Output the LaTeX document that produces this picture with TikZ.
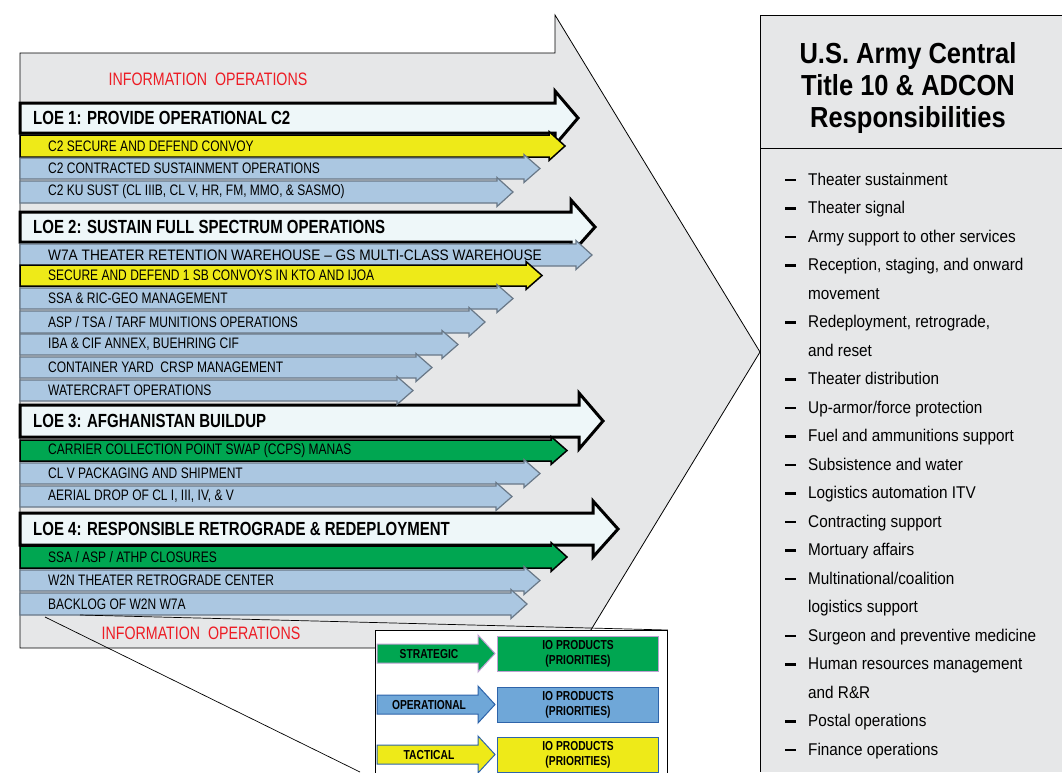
\documentclass[tikz,border=0pt]{standalone}
\usepackage{fontspec}
\setmainfont{Liberation Sans}
\newfontfamily\subfont[FakeStretch=0.79]{Liberation Sans}
\newfontfamily\listfont[FakeStretch=0.9]{Liberation Sans}
\newfontfamily\titlefont[FakeStretch=0.88]{Liberation Sans}
\definecolor{bggray}{RGB}{230,231,232}
\definecolor{loefill}{RGB}{238,247,249}
\definecolor{bluarr}{RGB}{171,199,225}
\definecolor{bluedge}{RGB}{105,120,135}
\definecolor{yelarr}{RGB}{238,234,24}
\definecolor{grnarr}{RGB}{0,166,81}
\definecolor{iored}{RGB}{237,28,36}
\definecolor{legblue}{RGB}{111,167,216}
\definecolor{legedge}{RGB}{46,100,170}
\definecolor{glow}{RGB}{190,160,210}
\begin{document}
\begin{tikzpicture}[x=1pt,y=-1pt,
  loe/.style={fill=loefill,draw=black,line width=3pt},
  blu/.style={fill=bluarr,draw=bluedge,line width=1.2pt},
  ylw/.style={fill=yelarr,draw=black,line width=1.5pt},
  grn/.style={fill=grnarr,draw=black,line width=1.5pt},
  subtxt/.style={anchor=west,inner sep=0pt,font=\subfont\fontsize{15.2}{17}\selectfont},
  loetxt/.style={anchor=west,inner sep=0pt,font=\subfont\bfseries\fontsize{19}{20}\selectfont},
  iotxt/.style={inner sep=0pt,text=iored,font=\subfont\fontsize{18}{20}\selectfont},
  legtxt/.style={inner sep=0pt,align=center,font=\subfont\bfseries\fontsize{13}{14.5}\selectfont},
  listtxt/.style={anchor=base west,inner sep=0pt,font=\listfont\fontsize{17}{20}\selectfont}]
\useasboundingbox (0,0) rectangle (1062,772);
% big arrow behind everything
\filldraw[fill=bggray,draw=black,line width=0.8pt] (20,53) -- (555,53) -- (555,15) -- (760,352) -- (555,689) -- (555,648) -- (20,648) -- cycle;
\node[iotxt](io1)at(208,79){INFORMATION\ \ OPERATIONS};
\node[iotxt](io2)at(201,633){INFORMATION\ \ OPERATIONS};
% lines of effort
\foreach \yt/\yb/\tip/\hl/\txt [count=\i] in {103/133/578/23/{LOE 1: PROVIDE OPERATIONAL C2},
  212/242/595/24/{LOE 2: SUSTAIN FULL SPECTRUM OPERATIONS},
  405/437/603/24/{LOE 3: AFGHANISTAN BUILDUP},
  513/545/618/25/{LOE 4: RESPONSIBLE RETROGRADE \& REDEPLOYMENT}}{
  \draw[loe] (20,\yt) -- ({\tip-\hl},\yt) -- ({\tip-\hl},\yt-12) -- (\tip,{(\yt+\yb)/2}) -- ({\tip-\hl},\yb+12) -- ({\tip-\hl},\yb) -- (20,\yb) -- cycle;
  \node[loetxt](loe\i)at(33,{(\yt+\yb)/2}){\txt};
}
% tasks
\foreach \yt/\yb/\tip/\kind/\txt [count=\i] in {135/157/565/ylw/{C2 SECURE AND DEFEND CONVOY},
  158/179/540/blu/{C2 CONTRACTED SUSTAINMENT OPERATIONS},
  181/203/513/blu/{C2 KU SUST (CL IIIB, CL V, HR, FM, MMO, \& SASMO)},
  244/266/592/blu/{\scalebox{1.14}[1]{W7A THEATER RETENTION WAREHOUSE – GS MULTI-CLASS WAREHOUSE}},
  265/286/542/ylw/{SECURE AND DEFEND 1 SB CONVOYS IN KTO AND IJOA},
  288/309/513/blu/{SSA \& RIC-GEO MANAGEMENT},
  311/333/485/blu/{ASP / TSA / TARF MUNITIONS OPERATIONS},
  334/355/458/blu/{IBA \& CIF ANNEX, BUEHRING CIF},
  357/378/432/blu/{CONTAINER YARD\ \ CRSP MANAGEMENT},
  380/401/413/blu/{WATERCRAFT\ OPERATIONS},
  440/461/567/grn/{CARRIER COLLECTION POINT SWAP\ (CCPS) MANAS},
  463/484/540/blu/{CL V PACKAGING AND SHIPMENT},
  486/507/512/blu/{AERIAL DROP OF CL I, III, IV, \& V},
  546/568/567/grn/{SSA / ASP / ATHP CLOSURES},
  570/591/540/blu/{W2N THEATER RETROGRADE CENTER},
  593/615/527/blu/{BACKLOG OF W2N W7A}}{
  \draw[\kind] (20,\yt) -- ({\tip-16},\yt) -- ({\tip-16},\yt-3.5) -- (\tip,{(\yt+\yb)/2}) -- ({\tip-16},\yb+3.5) -- ({\tip-16},\yb) -- (20,\yb) -- cycle;
  \node[subtxt](task\i)at(48,{(\yt+\yb)/2}){\txt};
}
% callout to the legend
\coordinate(cA)at(45,617);
\coordinate(cB)at(80,615);
\node[draw,fill=white,line width=0.8pt,minimum width=292,minimum height=150,anchor=north west,inner sep=0](leg)at(375,630){};
\draw[line width=0.7pt](cA)--(360,772);
\draw[line width=0.7pt](cB)--(leg.north east);
\foreach \yt/\fc/\ec/\txt [count=\i] in {644/grnarr/glow/STRATEGIC,695/legblue/legedge/OPERATIONAL,745/yelarr/legedge/TACTICAL}{
  \draw[fill=\fc,draw=\ec,line width=1pt] (377,\yt) -- (478,\yt) -- (478,\yt-9) -- (495,\yt+9.5) -- (478,\yt+28) -- (478,\yt+19) -- (377,\yt+19) -- cycle;
  \node[legtxt](lvl\i)at(429,\yt+10){\txt};
  \node[legtxt,draw=\ec,fill=\fc,line width=1pt,minimum width=161,minimum height=35](prod\i)at(578,\yt+10){IO PRODUCTS\\(PRIORITIES)};
}
% USARCENT panel
\fill[bggray](760,15) rectangle (1062,772);
\draw[line width=0.8pt](1062,15) -- (760,15) -- (760,772);
\draw[line width=0.8pt](760,148) -- (1062,148);
\node[align=center,inner sep=0,font=\titlefont\bfseries\fontsize{29}{32}\selectfont](title)at(908,88){U.S. Army Central\\Title 10 \& ADCON\\Responsibilities};
\foreach \d/\txt [count=\i from 0] in {1/{Theater sustainment},1/{Theater signal},1/{Army support to other services},
  1/{Reception, staging, and onward},0/{movement},1/{Redeployment, retrograde,},0/{and reset},
  1/{Theater distribution},1/{Up-armor/force protection},1/{Fuel and ammunitions support},
  1/{Subsistence and water},1/{Logistics automation ITV},1/{Contracting support},1/{Mortuary affairs},
  1/{Multinational/coalition},0/{logistics support},1/{Surgeon and preventive medicine},
  1/{Human resources management},0/{and R\&R},1/{Postal operations},1/{Finance operations}}{
  \node[listtxt](item\i)at(808,{185+28.5*\i}){\txt};
  \ifnum\d=1 \draw[line width=2.6pt](785,{180+28.5*\i}) -- (796,{180+28.5*\i});\fi
}
\end{tikzpicture}
\end{document}
